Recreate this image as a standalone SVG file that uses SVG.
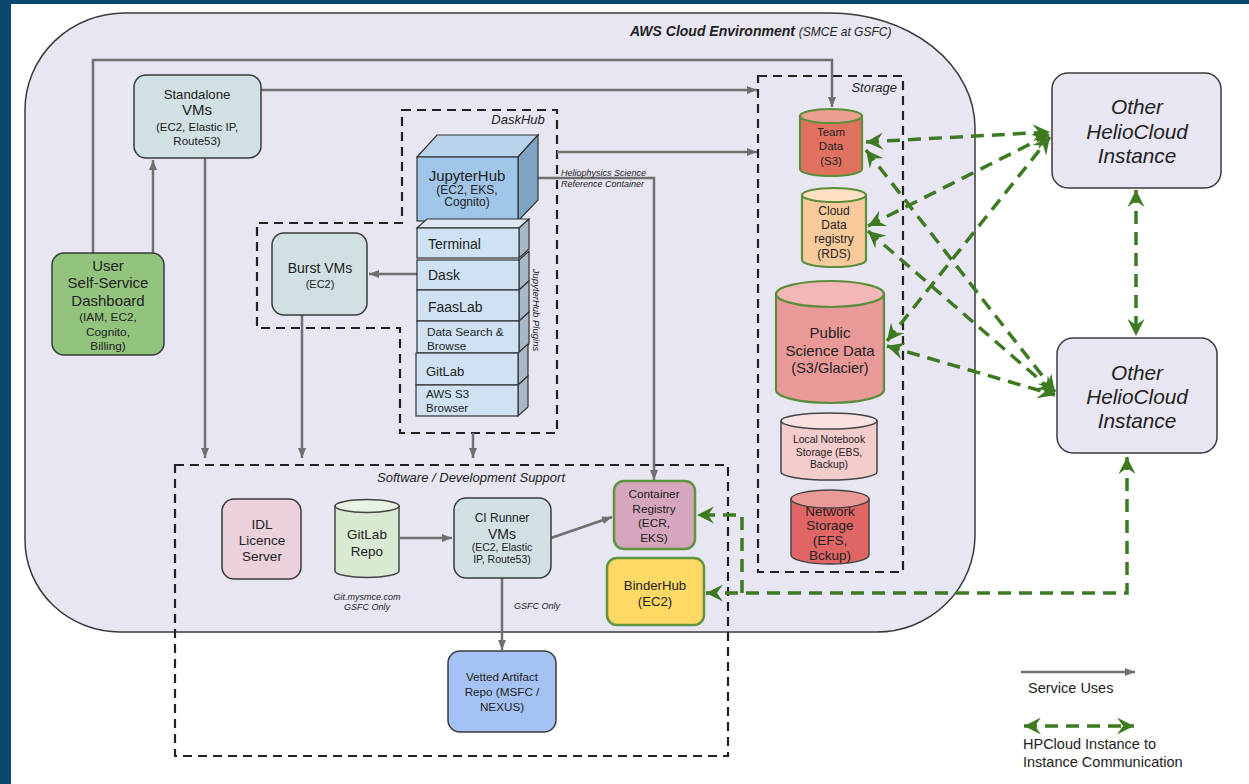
<svg xmlns="http://www.w3.org/2000/svg" width="1249" height="784" viewBox="0 0 1249 784">
<defs>
<marker id="ga" viewBox="0 0 10 8" refX="10" refY="4" markerWidth="10" markerHeight="8" markerUnits="userSpaceOnUse" orient="auto"><path d="M0,0 L10,4 L0,8 Z" fill="#707070"/></marker>
<marker id="gr" viewBox="0 0 14 14" refX="14" refY="7" markerWidth="17" markerHeight="17" markerUnits="userSpaceOnUse" orient="auto-start-reverse"><path d="M0,0 L14,7 L0,14 L5,7 Z" fill="#3d7a22"/></marker>
<style>
text{font-family:"Liberation Sans",Arial,sans-serif;fill:#222;}
.c{text-anchor:middle;}
.it{font-style:italic;}
.box{stroke:#3a3a3a;stroke-width:1.5;}
.dash{fill:none;stroke:#222;stroke-width:2.2;stroke-dasharray:9 6;}
.ln{fill:none;stroke:#707070;stroke-width:2.5;}
.arr{marker-end:url(#ga);}
.gl{fill:none;stroke:#3d7a22;stroke-width:3.5;stroke-dasharray:13 8;}
.gb{marker-start:url(#gr);marker-end:url(#gr);}
.ge{marker-end:url(#gr);}
.face{fill:#cfe2f3;stroke:#333;stroke-width:1.2;}
.side{fill:#a9b8c6;stroke:#333;stroke-width:1.2;}
.gs{stroke:#5a8e3a;stroke-width:2.2;}
.ds{stroke:#444;stroke-width:1.5;}
</style>
</defs>
<rect x="0" y="0" width="1249" height="784" fill="#ffffff"/>
<rect x="0" y="0" width="1249" height="4" fill="#0b4870"/>
<rect x="0" y="0" width="11" height="784" fill="#0b4870"/>

<g id="aws-cloud">
<path d="M125,13 L830,13 A145 115 0 0 1 975,128 L975,535 A98 97 0 0 1 877,632 L120,632 A95 92 0 0 1 25,540 L25,110 A100 97 0 0 1 125,13 Z" fill="#e8e6f2" stroke="#3a3a3a" stroke-width="1.5"/>
<text x="630" y="36" font-size="14" font-weight="bold" class="it">AWS Cloud Environment <tspan font-size="12" font-weight="normal">(SMCE at GSFC)</tspan></text>
</g>

<g id="daskhub-group">
<path class="dash" d="M402,110 L557,110 L557,433 L400,433 L400,328 L257,328 L257,223 L402,223 Z"/>
<text x="518" y="124" font-size="13" class="c it">DaskHub</text>
</g>

<g id="storage-group">
<rect class="dash" x="758" y="76" width="145" height="496"/>
<text x="897" y="92" font-size="13" class="it" text-anchor="end">Storage</text>
</g>

<g id="software-support-group">
<rect class="dash" x="175" y="465" width="553" height="291"/>
<text x="565" y="482" font-size="13" class="it" text-anchor="end">Software / Development Support</text>
</g>

<g id="connectors">
<polyline class="ln arr" points="93,253 93,60 832,60 832,107"/>
<line class="ln arr" x1="153" y1="253" x2="153" y2="160"/>
<line class="ln arr" x1="261" y1="90" x2="757" y2="90"/>
<line class="ln arr" x1="205" y1="158" x2="205" y2="458"/>
<line class="ln arr" x1="302" y1="315" x2="302" y2="458"/>
<line class="ln arr" x1="417" y1="274" x2="369" y2="274"/>
<line class="ln arr" x1="557" y1="152" x2="757" y2="152"/>
<polyline class="ln arr" points="538,178 654,178 654,480"/>
<line class="ln arr" x1="473" y1="433" x2="473" y2="458"/>
<line class="ln arr" x1="400" y1="538" x2="452" y2="538"/>
<line class="ln arr" x1="551" y1="538" x2="612" y2="517"/>
<line class="ln arr" x1="502" y1="578" x2="502" y2="650"/>
<text x="537" y="609" font-size="9" class="c it">GSFC Only</text>
<text x="561" y="176" font-size="9" class="it">Heliophysics Science</text>
<text x="561" y="187" font-size="9" class="it">Reference Container</text>

<line class="gl gb" x1="866" y1="142" x2="1050" y2="132"/>
<line class="gl gb" x1="866" y1="150" x2="1055" y2="392"/>
<line class="gl gb" x1="868" y1="226" x2="1050" y2="134"/>
<line class="gl gb" x1="868" y1="231" x2="1055" y2="393"/>
<line class="gl gb" x1="887" y1="341" x2="1050" y2="137"/>
<line class="gl gb" x1="887" y1="346" x2="1055" y2="395"/>
<line class="gl gb" x1="1136" y1="190" x2="1136" y2="336"/>
<polyline class="gl gb" points="1127,457 1127,593 706,593"/>
<polyline class="gl ge" points="742,593 742,515 697,515"/>
</g>

<g id="standalone-vms">
<rect class="box" x="134" y="75" width="127" height="83" rx="12" fill="#d0e0e3"/>
<text x="197" y="99" font-size="13.2" class="c">Standalone</text>
<text x="197" y="115" font-size="15" class="c">VMs</text>
<text x="197" y="131" font-size="11.5" class="c">(EC2, Elastic IP,</text>
<text x="197" y="145" font-size="11.5" class="c">Route53)</text>
</g>

<g id="user-dashboard">
<rect class="box" x="52" y="253" width="112" height="102" rx="12" fill="#93c47d"/>
<text x="108" y="271" font-size="15" class="c">User</text>
<text x="108" y="288" font-size="15" class="c">Self-Service</text>
<text x="108" y="306" font-size="15" class="c">Dashboard</text>
<text x="108" y="321" font-size="11.8" class="c">(IAM, EC2,</text>
<text x="108" y="336" font-size="11.8" class="c">Cognito,</text>
<text x="108" y="350" font-size="11.8" class="c">Billing)</text>
</g>

<g id="burst-vms">
<rect class="box" x="272" y="233" width="95" height="82" rx="12" fill="#d0e0e3"/>
<text x="320" y="273" font-size="14" class="c">Burst VMs</text>
<text x="320" y="288" font-size="11" class="c">(EC2)</text>
</g>

<g id="jupyterhub">
<polygon points="417,157 437,135 538,135 518,157" fill="#b9d3ec" stroke="#333" stroke-width="1.2"/>
<polygon points="518,157 538,135 538,200 518,221" fill="#7fa3c4" stroke="#333" stroke-width="1.2"/>
<rect x="417" y="157" width="101" height="64" fill="#9fc5e8" stroke="#333" stroke-width="1.2"/>
<text x="467" y="181" font-size="15" class="c">JupyterHub</text>
<text x="467" y="194" font-size="12" class="c">(EC2, EKS,</text>
<text x="467" y="206" font-size="12" class="c">Cognito)</text>
</g>

<g id="jupyterhub-plugins">
<polygon points="417,228 427,219 529,219 519,228" fill="#dde9f3" stroke="#333" stroke-width="1.2"/>
<polygon class="side" points="519,228 529,219 529,249 519,258"/>
<rect class="face" x="417" y="228" width="102" height="30"/>
<text x="428" y="249" font-size="14">Terminal</text>
<polygon class="side" points="519,260 529,251 529,281 519,290"/>
<rect class="face" x="417" y="260" width="102" height="30"/>
<text x="428" y="280" font-size="14">Dask</text>
<polygon class="side" points="519,290 529,281 529,312 519,321"/>
<rect class="face" x="417" y="290" width="102" height="31"/>
<text x="428" y="312" font-size="14">FaasLab</text>
<polygon class="side" points="519,321 529,312 529,344 519,353"/>
<rect class="face" x="417" y="321" width="102" height="32"/>
<text x="427" y="336" font-size="11.8">Data Search &amp;</text>
<text x="427" y="350" font-size="11.8">Browse</text>
<polygon class="side" points="518,353 528,344 528,376 518,385"/>
<rect class="face" x="416" y="353" width="102" height="32"/>
<text x="426" y="376" font-size="13">GitLab</text>
<polygon class="side" points="518,385 528,376 528,407 518,416"/>
<rect class="face" x="416" y="385" width="102" height="31"/>
<text x="426" y="398" font-size="11.5">AWS S3</text>
<text x="426" y="412" font-size="11.5">Browser</text>
<text transform="translate(533,310) rotate(90)" font-size="9.5" class="c it">JupyterHub Plugins</text>
</g>

<g id="team-data">
<path class="gs" d="M800,116 L800,169 A31 7 0 0 0 862,169 L862,116 Z" fill="#e0715e"/>
<ellipse class="gs" cx="831" cy="116" rx="31" ry="7" fill="#eba091"/>
<text x="831" y="136" font-size="11.5" class="c">Team</text>
<text x="831" y="150" font-size="11.5" class="c">Data</text>
<text x="831" y="165" font-size="11.5" class="c">(S3)</text>
</g>

<g id="cloud-data-registry">
<path class="gs" d="M802,195 L802,260 A32 7 0 0 0 866,260 L866,195 Z" fill="#f9cb9c"/>
<ellipse class="gs" cx="834" cy="195" rx="32" ry="7" fill="#fce1c4"/>
<text x="834" y="215" font-size="12" class="c">Cloud</text>
<text x="834" y="229" font-size="12" class="c">Data</text>
<text x="834" y="243" font-size="12" class="c">registry</text>
<text x="834" y="258" font-size="12" class="c">(RDS)</text>
</g>

<g id="public-science-data">
<path class="gs" d="M776,294 L776,390 A54 13 0 0 0 884,390 L884,294 Z" fill="#ea9999"/>
<ellipse class="gs" cx="830" cy="294" rx="54" ry="13" fill="#f3b7b7"/>
<text x="830" y="338" font-size="15" class="c">Public</text>
<text x="830" y="356" font-size="15" class="c">Science Data</text>
<text x="830" y="373" font-size="14.5" class="c">(S3/Glacier)</text>
</g>

<g id="local-notebook-storage">
<path class="ds" d="M781,421 L781,472 A48 8 0 0 0 877,472 L877,421 Z" fill="#f4cccc"/>
<ellipse class="ds" cx="829" cy="421" rx="48" ry="8" fill="#fae2e2"/>
<text x="829" y="443" font-size="10.4" class="c">Local Notebook</text>
<text x="829" y="456" font-size="10.4" class="c">Storage (EBS,</text>
<text x="829" y="468" font-size="10.4" class="c">Backup)</text>
</g>

<g id="network-storage">
<path class="ds" d="M791,499 L791,555 A39 9 0 0 0 869,555 L869,499 Z" fill="#e06666"/>
<ellipse class="ds" cx="830" cy="499" rx="39" ry="9" fill="#ea9999"/>
<text x="830" y="516" font-size="13.5" class="c">Network</text>
<text x="830" y="530" font-size="13.5" class="c">Storage</text>
<text x="830" y="545" font-size="13.5" class="c">(EFS,</text>
<text x="830" y="560" font-size="13.5" class="c">Bckup)</text>
</g>

<g id="other-instance-top">
<rect class="box" x="1052" y="73" width="169" height="115" rx="16" fill="#e8e6f2"/>
<text x="1137" y="114" font-size="20.8" class="c it">Other</text>
<text x="1137" y="139" font-size="20.8" class="c it">HelioCloud</text>
<text x="1137" y="163" font-size="20.8" class="c it">Instance</text>
</g>

<g id="other-instance-bottom">
<rect class="box" x="1057" y="338" width="160" height="115" rx="16" fill="#e8e6f2"/>
<text x="1137" y="380" font-size="20.8" class="c it">Other</text>
<text x="1137" y="404" font-size="20.8" class="c it">HelioCloud</text>
<text x="1137" y="428" font-size="20.8" class="c it">Instance</text>
</g>

<g id="idl-licence-server">
<rect class="box" x="222" y="499" width="79" height="80" rx="12" fill="#ead1dc"/>
<text x="262" y="529" font-size="13.5" class="c">IDL</text>
<text x="262" y="545" font-size="13.5" class="c">Licence</text>
<text x="262" y="561" font-size="13.5" class="c">Server</text>
</g>

<g id="gitlab-repo">
<path class="ds" d="M335,506 L335,571 A32 6.5 0 0 0 399,571 L399,506 Z" fill="#d9ead3"/>
<ellipse class="ds" cx="367" cy="506" rx="32" ry="6.5" fill="#e7f2e2"/>
<text x="367" y="539" font-size="13.5" class="c">GitLab</text>
<text x="367" y="556" font-size="13.5" class="c">Repo</text>
<text x="367" y="600" font-size="9" class="c it">Git.mysmce.com</text>
<text x="367" y="610" font-size="9" class="c it">GSFC Only</text>
</g>

<g id="ci-runner-vms">
<rect class="box" x="454" y="498" width="97" height="80" rx="12" fill="#d0e0e3"/>
<text x="502" y="522" font-size="12" class="c">CI Runner</text>
<text x="502" y="539" font-size="14" class="c">VMs</text>
<text x="502" y="551" font-size="10.5" class="c">(EC2, Elastic</text>
<text x="502" y="563" font-size="10.5" class="c">IP, Route53)</text>
</g>

<g id="vetted-artifact-repo">
<rect class="box" x="448" y="651" width="108" height="81" rx="12" fill="#a4c2f4"/>
<text x="502" y="681" font-size="11.7" class="c">Vetted Artifact</text>
<text x="502" y="696" font-size="11.7" class="c">Repo (MSFC /</text>
<text x="502" y="711" font-size="11.7" class="c">NEXUS)</text>
</g>

<g id="container-registry">
<rect x="614" y="481" width="81" height="68" rx="10" fill="#d5a6bd" stroke="#5f9440" stroke-width="2.5"/>
<text x="654" y="498" font-size="11.8" class="c">Container</text>
<text x="654" y="513" font-size="11.8" class="c">Registry</text>
<text x="654" y="527" font-size="11.8" class="c">(ECR,</text>
<text x="654" y="542" font-size="11.8" class="c">EKS)</text>
</g>

<g id="binderhub">
<rect x="607" y="558" width="97" height="67" rx="10" fill="#ffd966" stroke="#5f9440" stroke-width="2.5"/>
<text x="655" y="590" font-size="13.2" class="c">BinderHub</text>
<text x="655" y="606" font-size="13.2" class="c">(EC2)</text>
</g>

<g id="legend">
<line class="ln arr" x1="1021" y1="672" x2="1135" y2="672"/>
<text x="1028" y="693" font-size="14.5">Service Uses</text>
<line class="gl gb" x1="1024" y1="726" x2="1134" y2="726"/>
<text x="1023" y="749" font-size="14.5">HPCloud Instance to</text>
<text x="1023" y="767" font-size="14.5">Instance Communication</text>
</g>
</svg>
